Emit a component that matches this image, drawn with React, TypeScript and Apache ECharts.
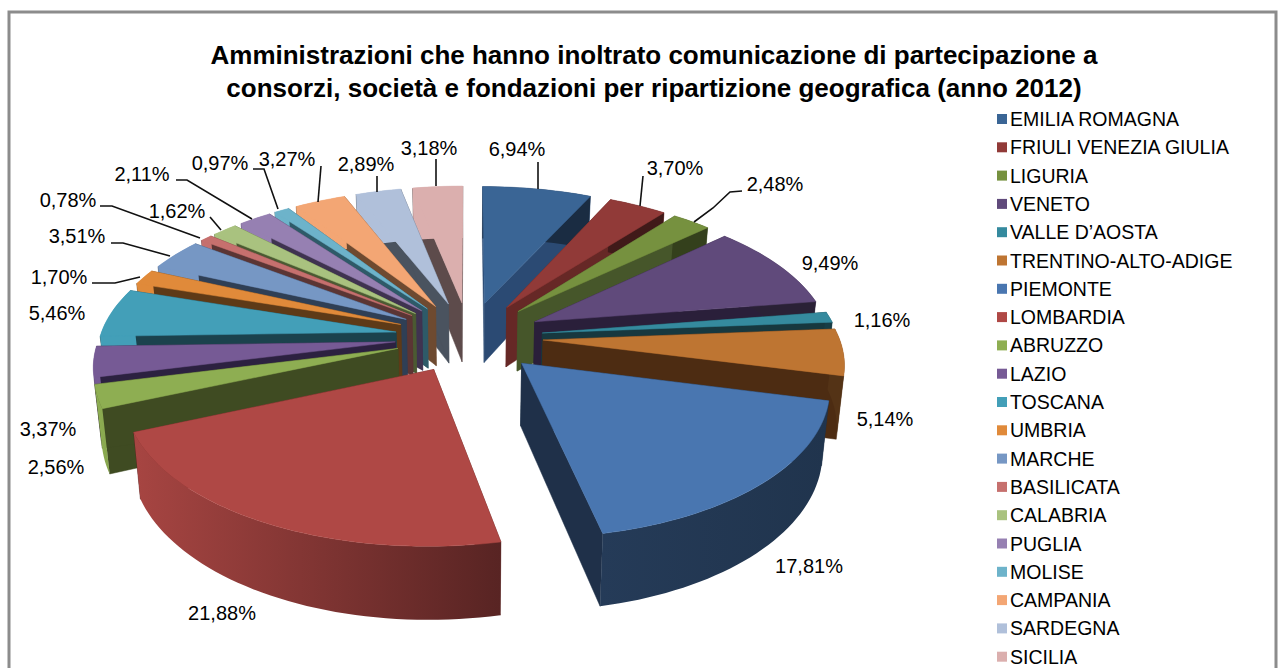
import React, { useEffect, useRef } from "react";
import * as echarts from "echarts";

const regions = ["EMILIA ROMAGNA","FRIULI VENEZIA GIULIA","LIGURIA","VENETO","VALLE D’AOSTA","TRENTINO-ALTO-ADIGE","PIEMONTE","LOMBARDIA","ABRUZZO","LAZIO","TOSCANA","UMBRIA","MARCHE","BASILICATA","CALABRIA","PUGLIA","MOLISE","CAMPANIA","SARDEGNA","SICILIA"];
const shares = [6.94,3.70,2.48,9.49,1.16,5.14,17.81,21.88,2.56,3.37,5.46,1.70,3.51,0.78,1.62,2.11,0.97,3.27,2.89,3.18];
const topColors = ["#3A6595","#913A38","#76913F","#604A7B","#358A9E","#BE7532","#4976B0","#AF4845","#8EAE52","#765A95","#439FB8","#E08A3A","#7697C4","#C6706E","#A9C27F","#9680B2","#6DB3CA","#F3A674","#B0C0DA","#DBAFAE"];
const wallColors = ["#2B4A73","#662826","#46562A","#2A1F3A","#17383F","#4D2C12","#1F3049","#57201E","#3F4B22","#2C2140","#1B424D","#5E3A17","#2F3F55","#5B3534","#4B5A32","#3F3350","#2E5A68","#6E4A30","#4A535F","#5D4B4B"];

// label centre for each slice
const labelCentres = [[517,149],[675,168],[775,184],[830,263],[882,320],[885,419],[809,566],[222,613],[56,467],[48,429],[57,313],[59,277],[77,236],[68,200],[177,211],[142,174],[220,163],[287,159],[366,164],[429,148]];
// leader lines (empty where the label has none)
const leaders: number[][][] = [
  [[538,162],[538,189]],
  [[643,176],[640,206]],
  [[742,191],[730,192],[713,208],[694,222]],
  [],[],[],[],[],[],[],[],
  [[92,283],[115,283],[140,277]],
  [[111,243],[123,243],[170,256]],
  [[100,206],[112,206],[200,238]],
  [[210,217],[221,230]],
  [[176,180],[187,180],[252,219]],
  [[253,169],[264,169],[278,209]],
  [[321,166],[318,202]],
  [[377,176],[377,192]],
  [[436,159],[436,186]],
];

const FONT = '"Liberation Sans", Arial, sans-serif';
const CX = 469, CY = 337, AX = 296, AY = 142, PERSP = 0.14, EXPLODE = 0.25, DEPTH = 61, BOTTOM_X = 0.98;

const total = shares.reduce((a, b) => a + b, 0);
const starts: number[] = [];
shares.reduce((acc, v, i) => { starts[i] = acc; return acc + v; }, 0);

function project(u: number, v: number, bottom: boolean): number[] {
  const s = 1 / (1 + PERSP * v);
  let x = CX + AX * u * s;
  let y = CY - AY * v * s;
  if (bottom) { x = CX + (x - CX) * BOTTOM_X; y += DEPTH * s; }
  return [x, y];
}
function shade(hex: string, f: number): string {
  const n = parseInt(hex.slice(1), 16);
  const c = [(n >> 16) & 255, (n >> 8) & 255, n & 255].map((k) => Math.round(k * f));
  return `rgb(${c[0]},${c[1]},${c[2]})`;
}
function arcLight(deg: number): number {
  if (deg <= 168) return 0.44;
  if (deg >= 255) return 1;
  return 0.5 + (deg - 168) / 87 * 0.5;
}

function makeRender(index: number) {
  return (_params: any, api: any) => {
    const value = api.value(0);
    const a0 = (starts[index] / total) * Math.PI * 2;
    const a1 = ((starts[index] + value) / total) * Math.PI * 2;
    const mid = (a0 + a1) / 2;
    const ou = EXPLODE * Math.sin(mid), ov = EXPLODE * Math.cos(mid);
    const steps = Math.max(2, Math.ceil((a1 - a0) / 0.03));
    const rimTop: number[][] = [], rimBottom: number[][] = [];
    for (let i = 0; i <= steps; i++) {
      const a = a0 + ((a1 - a0) * i) / steps;
      const u = ou + Math.sin(a), v = ov + Math.cos(a);
      rimTop.push(project(u, v, false));
      rimBottom.push(project(u, v, true));
    }
    const apexTop = project(ou, ov, false), apexBottom = project(ou, ov, true);
    const wall = wallColors[index], top = topColors[index];
    const wallFace = (k: number) => ({
      type: "polygon",
      shape: { points: [apexTop, rimTop[k], rimBottom[k], apexBottom] },
      style: { fill: wall, stroke: wall, lineWidth: 0.5 },
    });
    const d0 = (a0 * 180) / Math.PI, d1 = (a1 * 180) / Math.PI;
    return {
      type: "group",
      children: [
        wallFace(0),
        wallFace(steps),
        {
          type: "polygon",
          shape: { points: [...rimTop, ...rimBottom.slice().reverse()] },
          style: {
            fill: new echarts.graphic.LinearGradient(0, 0, 1, 0, [
              { offset: 0, color: shade(top, arcLight(d1)) },
              { offset: 1, color: shade(top, arcLight(d0)) },
            ]),
          },
        },
        {
          type: "polygon",
          shape: { points: [apexTop, ...rimTop] },
          style: { fill: top, stroke: top, lineWidth: 0.5 },
        },
      ],
    };
  };
}

export default function App() {
  const ref = useRef<HTMLDivElement>(null);
  useEffect(() => {
    const chart = echarts.init(ref.current!, undefined, { renderer: "svg" });
    const depthRank = shares
      .map((v, i) => ({ i, c: Math.cos((((starts[i] + v / 2) / total) * Math.PI * 2)) }))
      .sort((a, b) => b.c - a.c)
      .map((o) => o.i);
    const labels = shares.map((v, i) => ({
      type: "text",
      x: labelCentres[i][0],
      y: labelCentres[i][1],
      z: 100,
      style: { text: v.toFixed(2).replace(".", ",") + "%", font: `20px ${FONT}`, fill: "#000", align: "center", verticalAlign: "middle" },
    }));
    const lines = leaders.filter((p) => p.length).map((points) => ({
      type: "polyline",
      z: 99,
      shape: { points },
      style: { stroke: "#111", lineWidth: 1.6, fill: "none" },
    }));
    chart.setOption({
      animation: false,
      backgroundColor: "#fff",
      color: topColors,
      title: {
        text: "Amministrazioni che hanno inoltrato comunicazione di partecipazione a\nconsorzi, società e fondazioni per ripartizione geografica (anno 2012)",
        left: 649,
        top: 33,
        textAlign: "center",
        textStyle: { fontFamily: FONT, fontWeight: "bold", fontSize: 26, lineHeight: 33, color: "#000" },
      },
      legend: {
        orient: "vertical",
        left: 997,
        top: 109,
        height: 600,
        padding: 0,
        icon: "rect",
        itemWidth: 10,
        itemHeight: 10,
        itemGap: 8.3,
        selectedMode: false,
        data: regions,
        textStyle: { fontFamily: FONT, fontSize: 19.5, lineHeight: 20, color: "#000", padding: [0, 0, 0, -2] },
      },
      graphic: [
        { type: "polyline", z: 98, shape: { points: [[9, 668], [9, 12], [1276, 12], [1276, 668]] }, style: { stroke: "#8c8c8c", lineWidth: 3, fill: "none" } },
        ...lines,
        ...labels,
      ],
      series: regions.map((name, i) => ({
        type: "custom",
        name,
        coordinateSystem: "none",
        z: 10 + depthRank.indexOf(i),
        data: [[shares[i]]],
        renderItem: makeRender(i),
        silent: true,
      })),
    });
    return () => chart.dispose();
  }, []);
  return <div ref={ref} style={{ position: "absolute", left: 0, top: 0, width: 1282, height: 668 }} />;
}
